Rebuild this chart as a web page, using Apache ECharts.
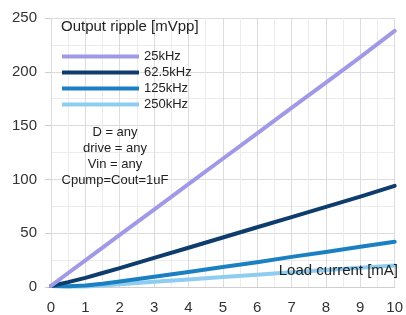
<!DOCTYPE html>
<html>
<head>
<meta charset="utf-8">
<script src="https://cdn.jsdelivr.net/npm/echarts@6/dist/echarts.min.js"></script>
<style>
html, body { margin: 0; padding: 0; background: #fff; }
#chart { width: 406px; height: 315px; }
</style>
</head>
<body>
<div id="chart"></div>
<script>
var loadCurrent = [0, 0.5, 1, 1.5, 2, 3, 4, 5, 6, 7, 8, 9, 10];
var ripple25k   = [1, 13, 24.8, 36.6, 48.4, 72, 95.6, 119.2, 142.8, 166.4, 190, 213.6, 238];
var ripple62k   = [1, 4.5, 8.5, 13, 17.5, 27, 36.5, 46, 55.5, 65, 74.5, 84, 94];
var ripple125k  = [1, 0.8, 1.3, 3, 5.2, 9.5, 14, 18.5, 23, 28, 32.5, 37.5, 42];
var ripple250k  = [1, 0.4, 0.5, 1.4, 2.6, 4.8, 7, 9.2, 11.4, 13.6, 15.8, 18, 20];
var seriesNames = ['25kHz', '62.5kHz', '125kHz', '250kHz'];
var seriesColors = ['#a09ae6', '#0e3d6d', '#1b80c2', '#8fcdf0'];
var notes = ['D = any', 'drive = any', 'Vin = any', 'Cpump=Cout=1uF'];

function pairs(ys) {
	return loadCurrent.map(function(x, i){ return [x, ys[i]]; });
}

var myChart = echarts.init(document.getElementById('chart'));
var allData = [ripple25k, ripple62k, ripple125k, ripple250k];

var option = {
	animation: false,
	textStyle: { fontFamily: 'Liberation Sans, Arial, sans-serif' },
	grid: { left: 51, right: 5.5, top: 18, bottom: 28 },
	legend: {
		orient: 'vertical',
		left: 62, top: 50,
		padding: 0,
		itemGap: 3,
		itemWidth: 77, itemHeight: 4,
		icon: 'rect',
		textStyle: { fontSize: 13, color: '#222' },
		data: seriesNames
	},
	graphic: [
		{
			type: 'text', x: 61, y: 19, z: 100,
			style: { text: 'Output ripple [mVpp]', fontSize: 15, fill: '#222', fontFamily: 'Liberation Sans' }
		},
		{
			type: 'text', x: 115, y: 124, z: 100,
			style: {
				text: notes.join('\n'), fontSize: 13, lineHeight: 16, align: 'center',
				fill: '#222', fontFamily: 'Liberation Sans'
			}
		},
		{
			type: 'text', x: 398, y: 263, z: 100,
			style: { text: 'Load current [mA]', fontSize: 15, align: 'right', fill: '#222', fontFamily: 'Liberation Sans' }
		}
	],
	xAxis: {
		type: 'value',
		min: 0, max: 10, interval: 1,
		axisLine: { show: true, lineStyle: { color: '#cfcfcf', width: 1 } },
		axisTick: { show: false },
		axisLabel: { fontSize: 15, color: '#333', margin: 13 },
		splitLine: { show: true, lineStyle: { color: '#dcdcdc' } },
		minorTick: { show: false, splitNumber: 2 },
		minorSplitLine: { show: true, lineStyle: { color: '#ececec' } }
	},
	yAxis: {
		type: 'value',
		min: 0, max: 250, interval: 50,
		axisLine: { show: true, lineStyle: { color: '#dcdcdc' } },
		axisTick: { show: true, length: 6, lineStyle: { color: '#cfcfcf' } },
		axisLabel: { fontSize: 15, color: '#333', margin: 14 },
		splitLine: { show: true, lineStyle: { color: '#dcdcdc' } },
		minorTick: { show: false, splitNumber: 2 },
		minorSplitLine: { show: true, lineStyle: { color: '#ececec' } }
	},
	series: seriesNames.map(function(name, i){
		return {
			name: name,
			type: 'line',
			data: pairs(allData[i]),
			smooth: false,
			showSymbol: false,
			color: seriesColors[i],
			lineStyle: { width: 4, color: seriesColors[i], join: 'round', cap: 'round' },
			z: 10 - i
		};
	})
};

myChart.setOption(option);
</script>
</body>
</html>
